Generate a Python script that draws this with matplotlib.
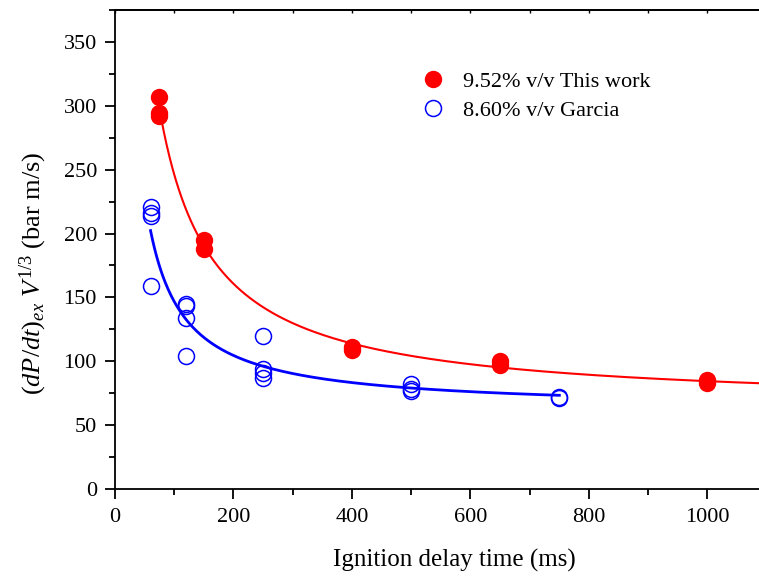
import numpy as np
import matplotlib
matplotlib.use("Agg")
import matplotlib.pyplot as plt
from matplotlib.ticker import MultipleLocator

plt.rcParams['font.family'] = ['Liberation Serif', 'DejaVu Serif']
plt.rcParams['mathtext.fontset'] = 'custom'
plt.rcParams['mathtext.rm'] = 'Liberation Serif'
plt.rcParams['mathtext.it'] = 'Liberation Serif:italic'

# Data
red_x = [75, 75, 75, 150, 150, 400, 400, 650, 650, 1000, 1000]
red_y = [307, 294, 292, 195, 188, 111, 109, 100, 97, 85, 83]
blue_x = [60, 60, 60, 60, 120, 120, 120, 120, 250, 250, 250, 250, 500, 500, 500, 750, 750]
blue_y = [221, 216, 214, 159, 145, 143, 134, 104, 120, 94, 91, 87, 82, 78, 77, 72, 71]
red_label = "9.52% v/v This work"
blue_label = "8.60% v/v Garcia"
xlabel = "Ignition delay time (ms)"
ylabel = r'$(dP/dt)_{ex}\ V^{\mathit{1/3}}$ (bar m/s)'


def fit_hyperbola(x, y):
    x = np.asarray(x, float)
    y = np.asarray(y, float)
    best = None
    for c in np.linspace(-50, 300, 701):
        A = np.column_stack([np.ones_like(x), 1.0 / (x + c)])
        coef, *_ = np.linalg.lstsq(A, y, rcond=None)
        r = np.sum((A @ coef - y) ** 2)
        if best is None or r < best[0]:
            best = (r, coef[0], coef[1], c)
    _, a, b, c = best
    return lambda t: a + b / (t + c)


fr = fit_hyperbola(red_x, red_y)
fb = fit_hyperbola(blue_x, blue_y)

W, H = 759, 578
fig = plt.figure(figsize=(W / 100, H / 100), dpi=100)
ax = fig.add_axes([115 / W, 89 / H, 1 - 115 / W, (489 - 10) / H])

xr = np.linspace(72, 1090, 400)
xb = np.linspace(60, 750, 400)
ax.plot(xr, fr(xr), color='#ff0000', lw=1.5, zorder=2)
ax.plot(xb, fb(xb), color='#0000ff', lw=2.0, zorder=2)

ax.plot(red_x, red_y, 'o', color='#ff0000', ms=11.5, mec='#ff0000', ls='none',
        label=red_label, zorder=3)
ax.plot(blue_x, blue_y, 'o', mfc='none', mec='#0000ff', mew=1.1, ms=11.5, ls='none',
        label=blue_label, zorder=3)

ax.set_xlim(0, 1087)
ax.set_ylim(0, 375)
ax.xaxis.set_major_locator(MultipleLocator(200))
ax.xaxis.set_minor_locator(MultipleLocator(100))
ax.yaxis.set_major_locator(MultipleLocator(50))
ax.yaxis.set_minor_locator(MultipleLocator(25))

ax.spines['right'].set_visible(False)
for s in ['left', 'bottom', 'top']:
    ax.spines[s].set_linewidth(1.3)

ax.tick_params(axis='x', which='major', direction='out', length=7, width=1.3, labelsize=16, pad=7)
ax.tick_params(axis='x', which='minor', direction='out', length=4, width=1.3)
ax.tick_params(axis='y', which='major', direction='out', length=7, width=1.3, labelsize=16, pad=6)
ax.tick_params(axis='y', which='minor', direction='out', length=4, width=1.3)

# top ticks inward
top = ax.secondary_xaxis('top')
top.set_xticks(np.arange(0, 1100, 100))
top.tick_params(direction='in', length=2.5, width=1.0, labeltop=False)
top.spines['top'].set_linewidth(1.3)

# axis labels
fig.text(454 / W, (H - 567) / H, xlabel, fontsize=18, ha='center', va='baseline')
fig.text(40 / W, (H - 273) / H, ylabel, fontsize=19, rotation=90,
         rotation_mode='anchor', ha='center', va='baseline')

leg = ax.legend(loc='center left', bbox_to_anchor=((420 - 115) / 644, (489 - 96) / 479),
                frameon=False, fontsize=16, handletextpad=0.72, labelspacing=0.36,
                handlelength=1.2, borderaxespad=0, borderpad=0)

fig.savefig('out.png', dpi=100)
